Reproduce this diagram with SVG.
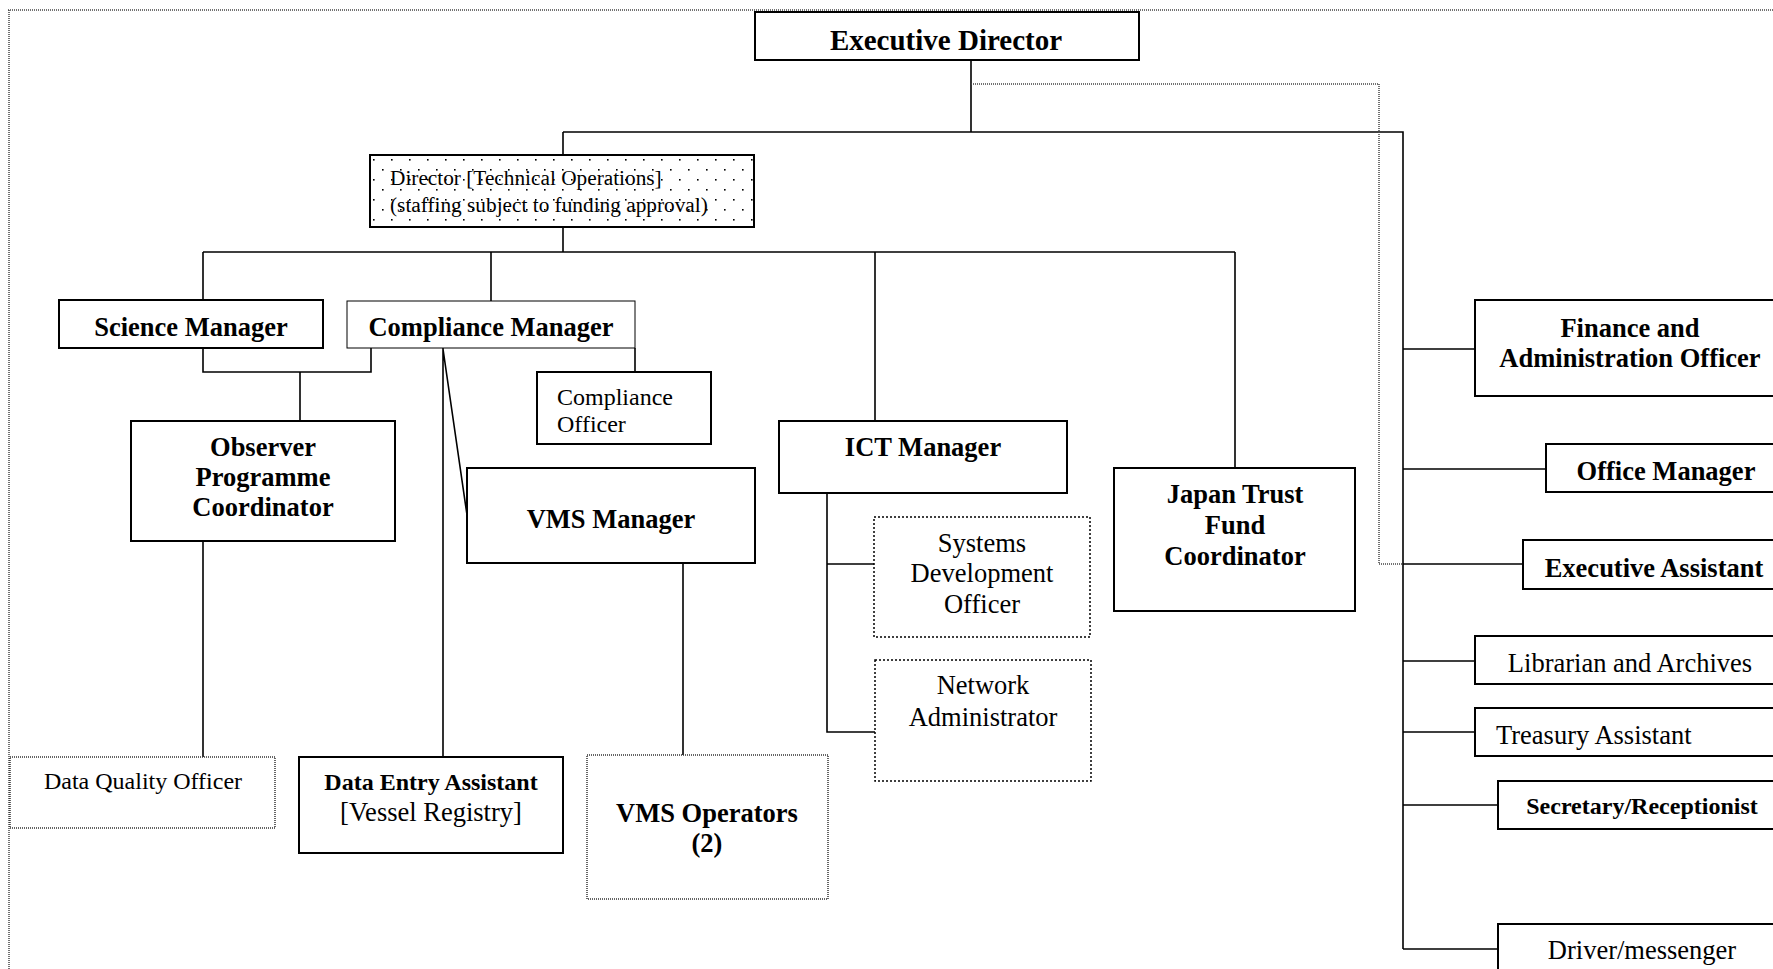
<svg xmlns="http://www.w3.org/2000/svg" width="1773" height="969" viewBox="0 0 1773 969">
<style>
.box{fill:#fff;stroke:#000;stroke-width:2}
.thin{fill:#fff;stroke:#000;stroke-width:1}
.dot1{fill:#fff;stroke:#333;stroke-width:1.5;stroke-dasharray:1 1}
.dot2{fill:#fff;stroke:#000;stroke-width:1.5;stroke-dasharray:2 2}
.ln{fill:none;stroke:#000;stroke-width:1.6}
.dl{fill:none;stroke:#444;stroke-width:1.5;stroke-dasharray:1 1}
text{font-family:"Liberation Serif","Times New Roman",serif;fill:#000}
.b{font-weight:bold;font-size:26.5px}
.r{font-size:26.5px}
.c{text-anchor:middle}
</style>
<defs>
<pattern id="dots" x="370" y="155" width="18" height="20" patternUnits="userSpaceOnUse">
<rect x="3" y="4" width="1.6" height="1.6" fill="#000"/>
<rect x="12" y="14" width="1.6" height="1.6" fill="#000"/>
</pattern>
</defs>
<g id="frame">
<path class="dl" d="M8 10 H1773 M9 10 V969"/>
</g>
<g id="connectors">
<path class="ln" d="M971 60 V132 M563 132 H1403 V949 M563 132 V155"/>
<path class="dl" d="M971 84 H1379 V564 H1403"/>
<path class="ln" d="M563 227 V252 M203 252 H1235 M203 252 V300 M491 252 V301 M875 252 V421 M1235 252 V468"/>
<path class="ln" d="M203 348 V372 H371 V348 M300 372 V421 M635 348 V372 M443 348 V757 M443 349 L467 515 M203 541 V757 M683 563 V755"/>
<path class="ln" d="M827 493 V732 H875 M827 564 H874"/>
<path class="ln" d="M1403 349 H1475 M1403 469 H1546 M1403 564 H1523 M1403 661 H1475 M1403 732 H1475 M1403 805 H1498 M1403 949 H1498"/>
</g>
<g id="executive-director"><rect class="box" x="755" y="12" width="384" height="48"/><text class="b c" x="946" y="50" style="font-size:29px">Executive Director</text></g>
<g id="director-technical"><rect x="370" y="155" width="384" height="72" fill="url(#dots)" stroke="#000" stroke-width="2"/><text x="390" y="185" style="font-size:21.3px">Director [Technical Operations]</text><text x="390" y="212" style="font-size:21.3px">(staffing subject to funding approval)</text></g>
<g id="science-manager"><rect class="box" x="59" y="300" width="264" height="48"/><text class="b c" x="191" y="336">Science Manager</text></g>
<g id="compliance-manager"><rect class="thin" x="347" y="301" width="288" height="47"/><text class="b c" x="491" y="336">Compliance Manager</text></g>
<g id="compliance-officer"><rect class="box" x="537" y="372" width="174" height="72"/><text x="557" y="405" style="font-size:24px">Compliance</text><text x="557" y="432" style="font-size:24px">Officer</text></g>
<g id="observer"><rect class="box" x="131" y="421" width="264" height="120"/><text class="b c" x="263" y="456">Observer</text><text class="b c" x="263" y="486">Programme</text><text class="b c" x="263" y="516">Coordinator</text></g>
<g id="vms-manager"><rect class="box" x="467" y="468" width="288" height="95"/><text class="b c" x="611" y="528">VMS Manager</text></g>
<g id="ict-manager"><rect class="box" x="779" y="421" width="288" height="72"/><text class="b c" x="923" y="456">ICT Manager</text></g>
<g id="japan-trust"><rect class="box" x="1114" y="468" width="241" height="143"/><text class="b c" x="1235" y="503">Japan Trust</text><text class="b c" x="1235" y="534">Fund</text><text class="b c" x="1235" y="565">Coordinator</text></g>
<g id="systems-dev"><rect class="dot2" x="874" y="517" width="216" height="120"/><text class="r c" x="982" y="552">Systems</text><text class="r c" x="982" y="582">Development</text><text class="r c" x="982" y="613">Officer</text></g>
<g id="network-admin"><rect class="dot2" x="875" y="660" width="216" height="121"/><text class="r c" x="983" y="694">Network</text><text class="r c" x="983" y="726">Administrator</text></g>
<g id="data-quality"><rect class="dot1" x="10" y="757" width="265" height="71"/><text class="c" x="143" y="789" style="font-size:24px">Data Quality Officer</text></g>
<g id="data-entry"><rect class="box" x="299" y="757" width="264" height="96"/><text class="c" x="431" y="790" style="font-size:24px;font-weight:bold">Data Entry Assistant</text><text class="r c" x="431" y="821">[Vessel Registry]</text></g>
<g id="vms-operators"><rect class="dot1" x="587" y="755" width="241" height="144"/><text class="b c" x="707" y="822">VMS Operators</text><text class="b c" x="707" y="852">(2)</text></g>
<g id="finance"><rect class="box" x="1475" y="300" width="311" height="96"/><text class="b c" x="1630" y="337">Finance and</text><text class="b c" x="1630" y="367">Administration Officer</text></g>
<g id="office-manager"><rect class="box" x="1546" y="444" width="240" height="48"/><text class="b c" x="1666" y="480">Office Manager</text></g>
<g id="executive-assistant"><rect class="box" x="1523" y="540" width="263" height="49"/><text class="b c" x="1654" y="577">Executive Assistant</text></g>
<g id="librarian"><rect class="box" x="1475" y="636" width="311" height="48"/><text class="r c" x="1630" y="672">Librarian and Archives</text></g>
<g id="treasury"><rect class="box" x="1475" y="708" width="311" height="48"/><text class="r" x="1496" y="744">Treasury Assistant</text></g>
<g id="secretary"><rect class="box" x="1498" y="781" width="288" height="48"/><text class="c" x="1642" y="814" style="font-size:24px;font-weight:bold">Secretary/Receptionist</text></g>
<g id="driver"><rect class="box" x="1498" y="924" width="288" height="60"/><text class="r c" x="1642" y="959">Driver/messenger</text></g>
</svg>
